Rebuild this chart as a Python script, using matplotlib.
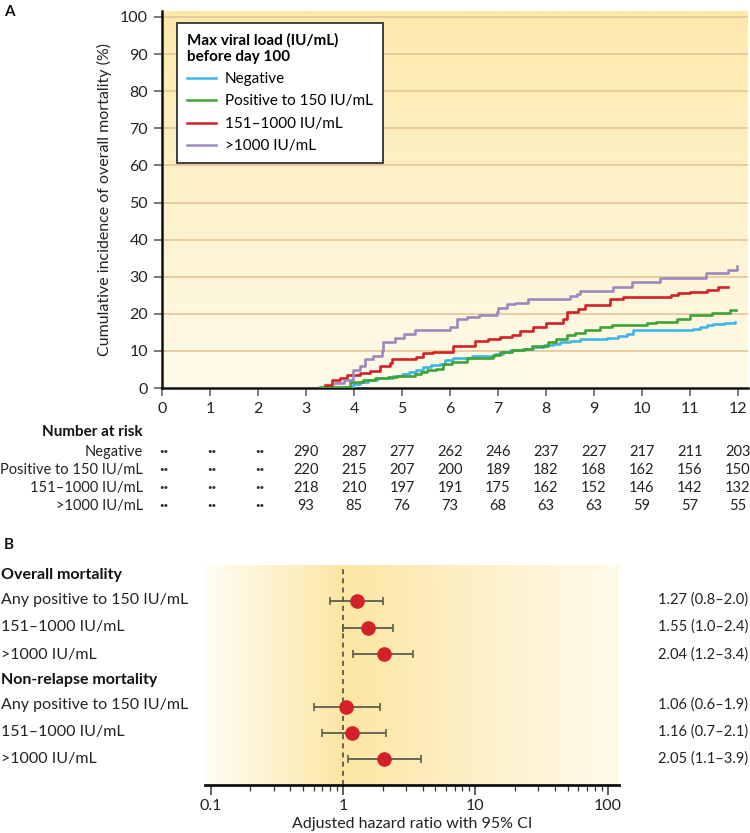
import numpy as np
import matplotlib
matplotlib.use('Agg')
import matplotlib.pyplot as plt
from matplotlib import transforms
from matplotlib.colors import LinearSegmentedColormap
from matplotlib.ticker import FixedLocator, NullFormatter

plt.rcParams['font.family'] = ['Lato', 'DejaVu Sans']

# ---- Panel A: cumulative incidence curves (step data)
neg_t = [3.35, 3.98, 4.12, 4.3, 4.48, 4.81, 5.0, 5.15, 5.3, 5.44, 5.6, 5.79, 5.9, 6.06, 6.45, 6.94,
         7.1, 7.25, 7.5, 7.73, 7.95, 8.15, 8.29, 8.5, 8.71, 9.0, 9.27, 9.5, 9.69, 9.81, 11.06, 11.2,
         11.35, 11.48, 11.7, 11.94]
neg_v = [0.3, 1.0, 1.7, 2.2, 2.7, 3.1, 3.9, 4.3, 4.8, 5.7, 6.2, 6.6, 7.5, 8.0, 8.5, 9.2,
         9.7, 10.2, 10.6, 11.1, 11.5, 11.9, 12.5, 12.8, 13.1, 13.3, 13.6, 14.0, 14.5, 15.6, 16.0, 16.5,
         16.9, 17.2, 17.5, 17.9]

pos_t = [3.3, 3.92, 4.19, 4.44, 4.7, 4.9, 5.27, 5.4, 5.52, 5.7, 5.86, 6.05, 6.35, 6.9, 7.04, 7.3,
         7.55, 7.7, 8.05, 8.2, 8.43, 8.6, 8.81, 9.12, 9.37, 10.1, 10.3, 10.73, 11.0, 11.46, 11.83, 11.95]
pos_v = [0.4, 1.6, 2.2, 2.8, 3.0, 3.3, 3.9, 4.3, 4.8, 5.2, 6.5, 7.0, 8.0, 8.9, 9.8, 10.2,
         10.6, 11.4, 12.3, 13.2, 14.3, 14.9, 15.5, 16.4, 17.0, 17.4, 17.9, 18.5, 19.8, 20.3, 21.0, 21.0]

mid_t = [3.4, 3.54, 3.7, 3.85, 4.12, 4.33, 4.54, 4.75, 4.8, 5.3, 5.44, 5.65, 6.06, 6.52, 6.8, 7.04,
         7.3, 7.46, 7.73, 8.0, 8.36, 8.43, 8.67, 8.81, 9.33, 9.6, 10.6, 10.75, 11.0, 11.35, 11.58, 11.8]
mid_v = [0.8, 2.2, 2.7, 3.5, 4.1, 4.7, 6.0, 6.7, 7.8, 8.4, 9.4, 9.8, 11.4, 12.7, 13.3, 13.8,
         14.4, 15.4, 16.5, 17.5, 18.6, 20.5, 21.4, 22.4, 24.1, 24.4, 25.0, 25.5, 26.0, 26.4, 27.2, 27.2]

high_t = [3.6, 3.8, 3.98, 4.12, 4.23, 4.4, 4.58, 4.6, 4.85, 5.05, 5.27, 6.0, 6.15, 6.35, 6.6, 6.97,
          7.0, 7.18, 7.35, 7.63, 8.5, 8.64, 8.7, 9.4, 9.8, 10.38, 11.33, 11.6, 11.8, 11.98]
high_v = [1.3, 2.2, 4.8, 5.9, 7.7, 8.5, 10.0, 12.4, 13.5, 14.5, 15.6, 16.5, 18.5, 19.2, 19.8, 20.6,
          21.6, 22.6, 23.0, 24.0, 24.8, 25.3, 26.2, 27.2, 28.5, 29.6, 31.0, 31.0, 31.8, 32.9]

group_names = ['Negative', 'Positive to 150 IU/mL', '151\u20131000 IU/mL', '>1000 IU/mL']
group_colors = ['#3fb5e8', '#3ea332', '#d42027', '#9d88c2']

years = list(range(13))
risk_negative = [None, None, None, 290, 287, 277, 262, 246, 237, 227, 217, 211, 203]
risk_pos150 = [None, None, None, 220, 215, 207, 200, 189, 182, 168, 162, 156, 150]
risk_151_1000 = [None, None, None, 218, 210, 197, 191, 175, 162, 152, 146, 142, 132]
risk_over1000 = [None, None, None, 93, 85, 76, 73, 68, 63, 63, 59, 57, 55]

# ---- Panel B: adjusted hazard ratios
row_labels = ['Any positive to 150 IU/mL', '151\u20131000 IU/mL', '>1000 IU/mL'] * 2
section_titles = ['Overall mortality', 'Non-relapse mortality']
hr = [1.27, 1.55, 2.04, 1.06, 1.16, 2.05]
ci_low = [0.8, 1.0, 1.2, 0.6, 0.7, 1.1]
ci_high = [2.0, 2.4, 3.4, 1.9, 2.1, 3.9]

W, H = 750, 833
fig = plt.figure(figsize=(W / 100, H / 100), dpi=100)


def fx(px):
    return px / W


def fy(py):
    return 1 - py / H


# ================= Panel A =================
axA = fig.add_axes([fx(162), fy(388), fx(748) - fx(162), fy(11) - fy(388)])
axA.set_xlim(0, (748 - 162) / 48)
axA.set_ylim(0, (388 - 11) / 3.71)

bgA = LinearSegmentedColormap.from_list('bgA', ['#fffbeb', '#fde9aa'])
axA.imshow(np.linspace(0, 1, 256).reshape(-1, 1)[::-1], cmap=bgA, aspect='auto',
           extent=[0, 1, 0, 1], transform=axA.transAxes, zorder=0)

for g in range(10, 101, 10):
    axA.axhline(g, color='#e8c89c', lw=1.3, zorder=1)

curves = [(neg_t, neg_v), (pos_t, pos_v), (mid_t, mid_v), (high_t, high_v)]
for (t, v), name, c in zip(curves, group_names, group_colors):
    axA.plot(t, v, drawstyle='steps-post', color=c, lw=1.9, label=name, zorder=3)

axA.set_xticks(years)
axA.set_yticks(range(0, 101, 10))
axA.tick_params(axis='both', labelsize=11.5, color='#555555', length=6, width=1.1,
                labelcolor='#222222', pad=4)
for s in ['top', 'right']:
    axA.spines[s].set_visible(False)
for s in ['left', 'bottom']:
    axA.spines[s].set_linewidth(1.8)
    axA.spines[s].set_color('#111111')
axA.set_ylabel('Cumulative incidence of overall mortality (%)', fontsize=11.5, color='#222222',
               labelpad=6)

leg = axA.legend(loc='upper left', bbox_to_anchor=(0.026, 0.968), borderaxespad=0,
                 title='Max viral load (IU/mL)\nbefore day 100', alignment='left',
                 fontsize=11, title_fontproperties={'weight': 'bold', 'size': 11},
                 frameon=True, fancybox=False, edgecolor='#222222', framealpha=1,
                 handlelength=1.9, handletextpad=0.55, labelspacing=0.55, borderpad=0.65)
leg.get_frame().set_linewidth(1.2)
for line in leg.get_lines():
    line.set_linewidth(1.8)

# number at risk table
tr = transforms.blended_transform_factory(axA.transData, fig.transFigure)
fig.text(fx(143), fy(432), 'Number at risk', ha='right', va='center', fontsize=11,
         fontweight='bold', color='#111111')
risk_rows = [risk_negative, risk_pos150, risk_151_1000, risk_over1000]
row_y = [452, 470, 488, 506]
for name, counts, py in zip(group_names, risk_rows, row_y):
    fig.text(fx(143), fy(py), name, ha='right', va='center', fontsize=10.5, color='#222222')
    for yr, n in zip(years, counts):
        if n is None:
            axA.text(yr + 0.04, fy(py), '\u00b7\u00b7', transform=tr, ha='center', va='center',
                     fontsize=12, fontweight='bold', color='#333333')
        else:
            axA.text(yr, fy(py), str(n), transform=tr, ha='center', va='center', fontsize=10.5,
                     color='#222222')

fig.text(fx(4), fy(12), 'A', fontsize=11, fontweight='bold', va='center', color='#111111')
fig.text(fx(4), fy(545), 'B', fontsize=11, fontweight='bold', va='center', color='#111111')

# ================= Panel B =================
axB = fig.add_axes([fx(205), fy(785), fx(619) - fx(205), fy(565) - fy(785)])
axB.set_xscale('log')
axB.set_xlim(0.0906, 122)
axB.set_ylim(7.98, -0.38)

xs = np.linspace(np.log10(0.0906), np.log10(122), 400)
shade = np.where(xs < 0, (xs + 1.05) / 1.05, 1 - xs / 2.4)
shade = np.clip(shade, 0, 1) ** 1.1
bgB = LinearSegmentedColormap.from_list('bgB', ['#fffdf4', '#fce6a2'])
axB.imshow(shade.reshape(1, -1), cmap=bgB, vmin=0, vmax=1, aspect='auto',
           extent=[0, 1, 0, 1], transform=axB.transAxes, zorder=0)

axB.axvline(1, color='#4a4a4a', lw=1.2, ls=(0, (3, 2.5)), zorder=2)

row_pos = [1, 2, 3, 5, 6, 7]
hr_arr = np.array(hr)
err = [hr_arr - np.array(ci_low), np.array(ci_high) - hr_arr]
axB.errorbar(hr, row_pos, xerr=err, fmt='o', color='#d3202a', ms=9.5, mec='#d3202a',
             ecolor='#5c5c50', elinewidth=1.3, capsize=3.2, capthick=1.2, zorder=3)

axB.set_yticks([])
for s in ['top', 'right', 'left']:
    axB.spines[s].set_visible(False)
axB.spines['bottom'].set_linewidth(2)
axB.spines['bottom'].set_color('#111111')
axB.xaxis.set_major_locator(FixedLocator([0.1, 1, 10, 100]))
axB.set_xticklabels(['0.1', '1', '10', '100'])
axB.tick_params(axis='x', which='major', length=7, width=1.1, color='#333333', labelsize=11.5,
                labelcolor='#222222', pad=3)
axB.tick_params(axis='x', which='minor', length=4, width=0.9, color='#333333')
axB.xaxis.set_minor_formatter(NullFormatter())
axB.set_xlabel('Adjusted hazard ratio with 95% CI', fontsize=11.5, color='#222222', labelpad=3)

# row labels and estimates
label_y = [600, 627, 655, 705, 732, 759]
for lab, py, h, lo, hi in zip(row_labels, label_y, hr, ci_low, ci_high):
    fig.text(fx(1), fy(py), lab, ha='left', va='center', fontsize=11.5, color='#222222')
    fig.text(fx(658), fy(py), f'{h:.2f} ({lo:.1f}\u2013{hi:.1f})', ha='left', va='center',
             fontsize=10.5, color='#222222')
for title, py in zip(section_titles, [575, 680]):
    fig.text(fx(1), fy(py), title, ha='left', va='center', fontsize=11.5, fontweight='bold',
             color='#111111')

fig.savefig('out.png', dpi=100)
